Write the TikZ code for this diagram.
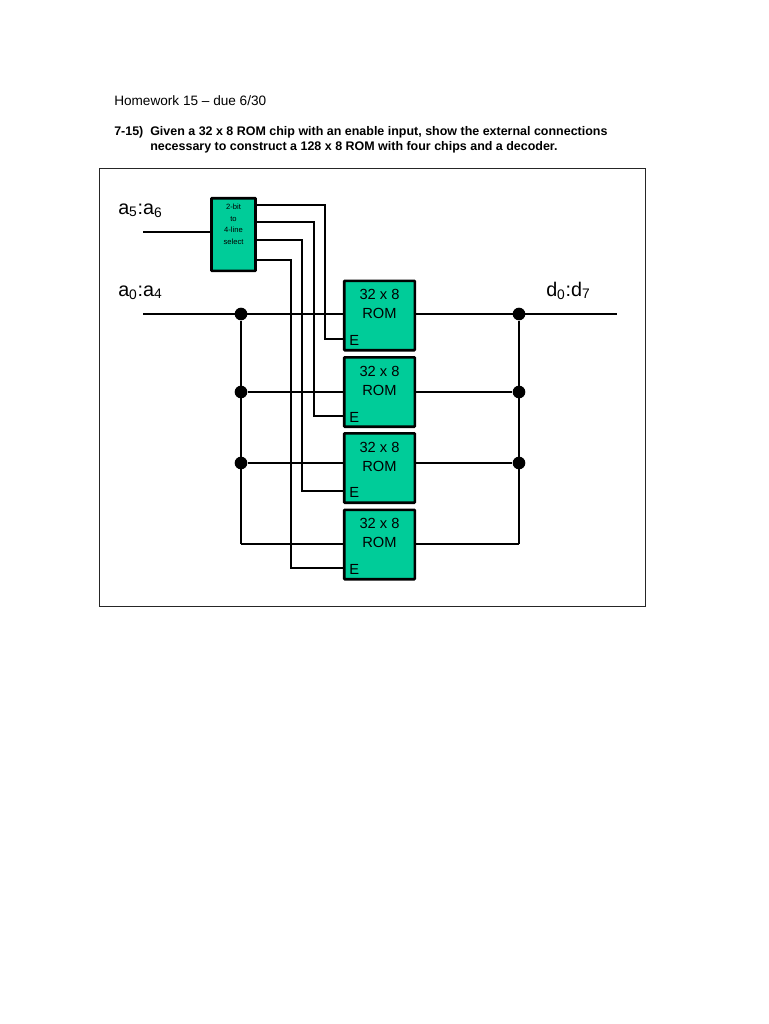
\documentclass[tikz,border=0pt]{standalone}
\usepackage{fontspec}
\setmainfont{Liberation Sans}
\definecolor{chipgreen}{HTML}{00CC99}
\tikzset{
	wire/.style={draw=black,line width=2pt},
	busline/.style={draw=black,line width=2.2pt},
	dot/.style={circle,fill=black,inner sep=0pt,minimum size=9.5pt},
	chip/.style={draw=black,line width=2pt,fill=chipgreen,rounded corners=.5pt,inner sep=0pt},
	rom/.style={chip,minimum width=53pt,minimum height=52pt},
	decoder/.style={chip,minimum width=33pt,minimum height=54.5pt},
	bus/.style={font=\fontsize{14.8}{16}\selectfont,inner sep=0pt,anchor=base west},
	note/.style={font=\fontsize{10.2}{11}\selectfont,inner sep=0pt,anchor=base west},
	boldnote/.style={note,font=\fontsize{9.35}{11}\selectfont\bfseries},
	romtext/.style={font=\fontsize{11}{14.3}\selectfont,align=center,inner sep=0pt,anchor=north}
}
\begin{document}
\begin{tikzpicture}[x=.75pt,y=-.75pt]
\useasboundingbox (0,0) rectangle (768,1024);

\node[note] (hw) at (114,105) {Homework 15 -- due 6/30};
\node[boldnote] (num) at (114,135) {7-15)};
\node[boldnote] (q1) at (150,135) {Given a 32 x 8 ROM chip with an enable input, show the external connections};
\node[boldnote] (q2) at (150,150) {necessary to construct a 128 x 8 ROM with four chips and a decoder.};

\draw[line width=.7pt,draw=black!85] (99.5,168) rectangle (645,606);

% the chips
\node[decoder] (dec) at (233.5,234.5) {};
\node[rom] (rom1) at (379.5,315.5) {};
\node[rom] (rom2) at (379.5,392) {};
\node[rom] (rom3) at (379.5,468) {};
\node[rom] (rom4) at (379.5,544.5) {};

\coordinate (in56) at (143,232);
\coordinate (in04) at (143,314);
\coordinate (out) at (617,314);

\draw[wire] (in56) -- (in56 -| dec.west);
\draw[busline] (in04) -- (in04 -| rom1.west);
\draw[busline] (rom1.east |- out) -- (out);

% decoder outputs to the enables
\foreach \i/\ya/\xb/\yb in {1/205/325/339,2/222/314/416,3/240/302/491,4/260/291/568}{
	\draw[wire] (dec.east |- 0,\ya) -| (\xb,\yb) -- (rom\i.west |- 0,\yb);
	\node[inner sep=0pt,anchor=base west,font=\fontsize{11}{12}\selectfont] (en\i) at (349,\yb+6) {E};
}

% address and data rails
\node[dot] (jl1) at (241,314) {};
\node[dot] (jl2) at (241,392) {};
\node[dot] (jl3) at (241,463) {};
\coordinate (jl4) at (241,544);
\node[dot] (jr1) at (519,314) {};
\node[dot] (jr2) at (519,392) {};
\node[dot] (jr3) at (519,463) {};
\coordinate (jr4) at (519,544);
\draw[wire,line width=1.7pt] (jl1) -- (jl4);
\draw[wire,line width=2.2pt] (jr1) -- (jr4);
\foreach \i in {2,3,4}{
	\draw[wire] (jl\i) -- (jl\i -| rom\i.west);
	\draw[wire] (rom\i.east |- jr\i) -- (jr\i);
}

\foreach \i in {1,2,3,4}
	\node[romtext] (lab\i) at ([yshift=-7.2pt]rom\i.north) {32 x 8\\ROM};

\node[font=\fontsize{5.7}{8.8}\selectfont,align=center,inner sep=0pt,anchor=north] (declab) at (233.5,203.5) {2-bit\\to\\4-line\\select};

\node[bus] (a56) at (118,214) {a\textsubscript{5}:a\textsubscript{6}};
\node[bus] (a04) at (118,296) {a\textsubscript{0}:a\textsubscript{4}};
\node[bus] (d07) at (546,296) {d\textsubscript{0}:d\textsubscript{7}};
\end{tikzpicture}
\end{document}
